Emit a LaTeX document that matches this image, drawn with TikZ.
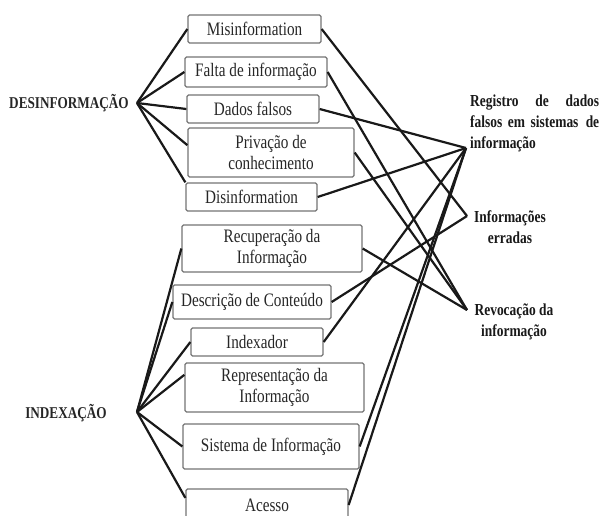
\documentclass[tikz,border=0pt]{standalone}
\usepackage{fontspec}
\setmainfont{Liberation Serif}[FakeStretch=0.8]

\begin{document}
\begin{tikzpicture}[x=1pt, y=-1pt,
  caixa/.style={draw=black!55, line width=1.3pt, rounded corners=1.5pt, inner sep=0pt,
    align=center, text=black!85, font=\fontsize{19}{21.5}\selectfont},
  liga/.style={line width=2.2pt, black!90},
  rotulo/.style={inner sep=0pt, text=black!85, font=\bfseries\fontsize{16.5}{18}\selectfont},
  destino/.style={inner sep=0pt, text=black!90, font=\bfseries\fontsize{16.8}{21}\selectfont}]
  \useasboundingbox (0,0) rectangle (601,515);

  % pontos de convergencia
  \coordinate (D) at (137,103);
  \coordinate (I) at (137,412);
  \coordinate (reg) at (466,148);
  \coordinate (err) at (467,216);
  \coordinate (rev) at (467,310);

  \node[rotulo] (desinf) at (69,103) {DESINFORMAÇÃO};
  \node[rotulo] (idx) at (66,413) {INDEXAÇÃO};

  % caixas de cima
  \node[caixa, minimum width=133, minimum height=28] (mis) at (254.5,29) {Misinformation};
  \node[caixa, minimum width=142, minimum height=30] (falta) at (256,72) {Falta de informação};
  \node[caixa, minimum width=132, minimum height=28] (dados) at (253,109) {Dados falsos};
  \node[caixa, minimum width=166, minimum height=49] (priv) at (271,152.5) {Privação de\\conhecimento};
  \node[caixa, minimum width=131, minimum height=28] (disinf) at (251.5,197) {Disinformation};

  % caixas de baixo
  \node[caixa, minimum width=180, minimum height=47] (recup) at (272,248.5) {Recuperação da\\Informação};
  \node[caixa, minimum width=158, minimum height=34] (descr) at (252,302) {Descrição de Conteúdo};
  \node[caixa, minimum width=132, minimum height=28] (indexador) at (257,342) {Indexador};
  \node[caixa, minimum width=179, minimum height=49] (repr) at (274.5,387.5) {Representação da\\Informação};
  \node[caixa, minimum width=176, minimum height=45] (sist) at (271,446.5) {Sistema de Informação};
  \node[caixa, minimum width=162, minimum height=32] (acesso) at (267,505) {Acesso};

  % rotulos da direita
  \node[destino, anchor=west, text width=129, align=left] (registro) at (470,123)
    {\makebox[129pt]{Registro\hfill de\hfill dados}\\
     \makebox[129pt]{falsos em sistemas\hfill de}\\
     informação};
  \node[destino, align=center] (erradas) at (510,227) {Informações\\erradas};
  \node[destino, align=center] (revoc) at (514,322) {Revocação da\\informação};

  \draw[liga] (D) -- (mis.west);
  \draw[liga] (D) -- (falta.west);
  \draw[liga] (D) -- (dados.west);
  \draw[liga] (D) -- (priv.175);
  \draw[liga] (D) -- (disinf.north west);

  \draw[liga] (I) -- (recup.west);
  \draw[liga] (I) -- (descr.west);
  \draw[liga] (I) -- (indexador.west);
  \draw[liga] (I) -- (repr.172);
  \draw[liga] (I) -- (sist.west);
  \draw[liga] (I) -- (acesso.175);

  \draw[liga] (mis.east) -- (err);
  \draw[liga] (descr.east) -- (err);

  \draw[liga] (falta.east) -- (rev);
  \draw[liga] (priv.east) -- (rev);
  \draw[liga] (recup.east) -- (rev);

  \draw[liga] (dados.east) -- (reg);
  \draw[liga] (disinf.east) -- (reg);
  \draw[liga] (indexador.east) -- (reg);
  \draw[liga] (sist.east) -- (reg);
  \draw[liga] (acesso.east) -- (reg);
\end{tikzpicture}
\end{document}
